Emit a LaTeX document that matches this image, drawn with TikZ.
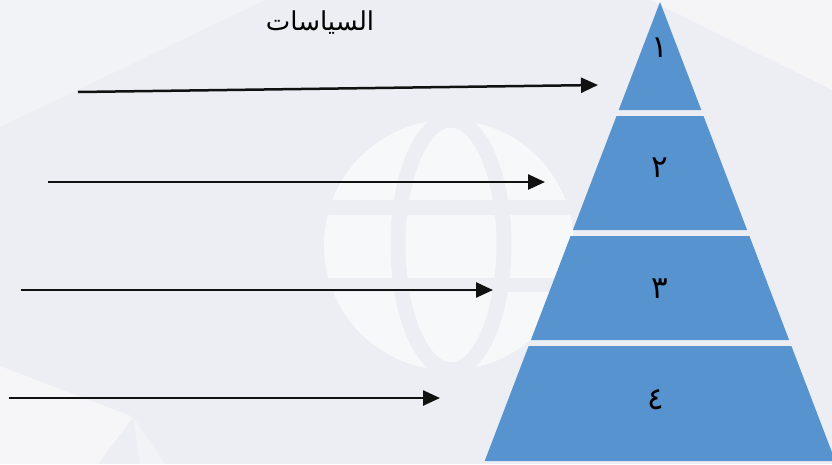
\documentclass[tikz,border=0pt]{standalone}
\usepackage{fontspec}
\usetikzlibrary{arrows.meta}
\TeXXeTstate=1
\newfontfamily\arabicfont[Script=Arabic]{DejaVu Sans}
\definecolor{bgc}{RGB}{237,238,244}
\definecolor{tierc}{RGB}{86,147,207}
\definecolor{arrc}{RGB}{17,17,17}
\tikzset{
  tier/.style={fill=tierc,draw=none},
  arr/.style={draw=arrc,line width=2.5pt,-{Triangle[length=17pt,width=15pt]}},
  num/.style={font=\arabicfont\fontsize{31}{34}\selectfont,text=black,inner sep=0pt},
  band/.style={fill=bgc,draw=none}
}
\begin{document}
\begin{tikzpicture}[x=1pt,y=-1pt]
\useasboundingbox (0,0) rectangle (832,464);
\clip (0,0) rectangle (832,464);
\fill[bgc] (0,0) rectangle (832,464);
% faint watermark
\fill[white,opacity=0.3] (0,127) -- (265,0) -- (0,0) -- cycle;
\fill[white,opacity=0.45] (650,0) -- (832,0) -- (832,90) -- cycle;
\fill[white,opacity=0.5] (0,366) -- (133,417) -- (98,464) -- (0,464) -- cycle;
\fill[white,opacity=0.3] (133,417) -- (140,464) -- (165,464) -- cycle;
\begin{scope}
  \clip (449,245) circle (125);
  \fill[white,opacity=0.6] (449,245) circle (125);
  \draw[bgc,line width=15pt] (451,245) ellipse [x radius=53,y radius=125];
  \fill[band] (300,200) rectangle (600,215);
  \fill[band] (300,278) rectangle (600,292);
\end{scope}
% pyramid
\fill[tier] (660,2) -- (701.3,110) -- (618.7,110) -- cycle;
\fill[tier] (616.5,116) -- (703.5,116) -- (747.1,230) -- (572.9,230) -- cycle;
\fill[tier] (570.6,236) -- (749.4,236) -- (789.1,340) -- (530.9,340) -- cycle;
\fill[tier] (528.6,346) -- (791.4,346) -- (835.3,461) -- (484.7,461) -- cycle;
\node[num] (n1) at (660,48) {\beginR ١\endR};
\node[num] (n2) at (660,168) {\beginR ٢\endR};
\node[num] (n3) at (660,289) {\beginR ٣\endR};
\node[num] (n4) at (656,400) {\beginR ٤\endR};
% title
\node (title) at (320,23) {\arabicfont\fontsize{26}{30}\selectfont\beginR السياسات\endR};
% arrows
\coordinate (a1s) at (78,92);  \coordinate (a1e) at (598,85);
\coordinate (a2s) at (48,182); \coordinate (a2e) at (545,182);
\coordinate (a3s) at (21,290); \coordinate (a3e) at (493,290);
\coordinate (a4s) at (9,398);  \coordinate (a4e) at (440,398);
\draw[arr] (a1s) -- (a1e);
\draw[arr] (a2s) -- (a2e);
\draw[arr] (a3s) -- (a3e);
\draw[arr] (a4s) -- (a4e);
\end{tikzpicture}
\end{document}
